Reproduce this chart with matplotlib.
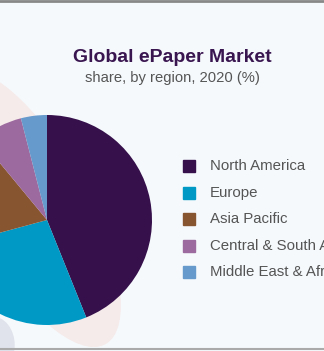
import matplotlib.pyplot as plt
from matplotlib.patches import Ellipse, Rectangle

regions = ["North America", "Europe", "Asia Pacific", "Central & South America", "Middle East & Africa"]
shares = [43.9, 26.9, 18.2, 7.0, 4.0]
colors = ["#35104a", "#0099c6", "#875530", "#9d6a9f", "#6699cc"]

W, H = 324, 351
fig = plt.figure(figsize=(W / 100, H / 100), dpi=100)
fig.patch.set_facecolor("#f5f9fc")
ax = fig.add_axes([0, 0, 1, 1])
ax.set_facecolor("#f5f9fc")

# soft background decorations behind the pie
ax.add_patch(Ellipse((30, H - 208), 114, 310, angle=29, color="#f5ebea", zorder=0))
ax.add_patch(Ellipse((-8, H - 345), 44, 56, color="#e0e3eb", zorder=0))

wedges, _ = ax.pie(shares, colors=colors, startangle=90, counterclock=False,
                   center=(47, H - 220), radius=105, frame=True)
for w in wedges:
    w.set_zorder(2)

ax.set_xlim(0, W)
ax.set_ylim(0, H)
ax.set_aspect("auto")
ax.axis("off")

ax.text(172, H - 57, "Global ePaper Market", ha="center", va="center",
        fontsize=14, fontweight="bold", color="#3a1650", family="Liberation Sans")
ax.text(172, H - 78, "share, by region, 2020 (%)", ha="center", va="center",
        fontsize=10.6, color="#555555", family="Liberation Sans")

# legend
for i, (name, c) in enumerate(zip(regions, colors)):
    y = H - (166 + i * 26.5)
    ax.add_patch(Rectangle((183, y - 6), 12, 12, color=c, zorder=3))
    ax.text(210, y, name, ha="left", va="center", fontsize=10.8, color="#555555",
            family="Liberation Sans", clip_on=False)

# border lines
ax.axhline(H - 1, color="#888888", lw=2)
ax.axhline(H - 349, color="#aaaaaa", lw=1.5)

fig.savefig("out.png", dpi=100, facecolor=fig.get_facecolor())
